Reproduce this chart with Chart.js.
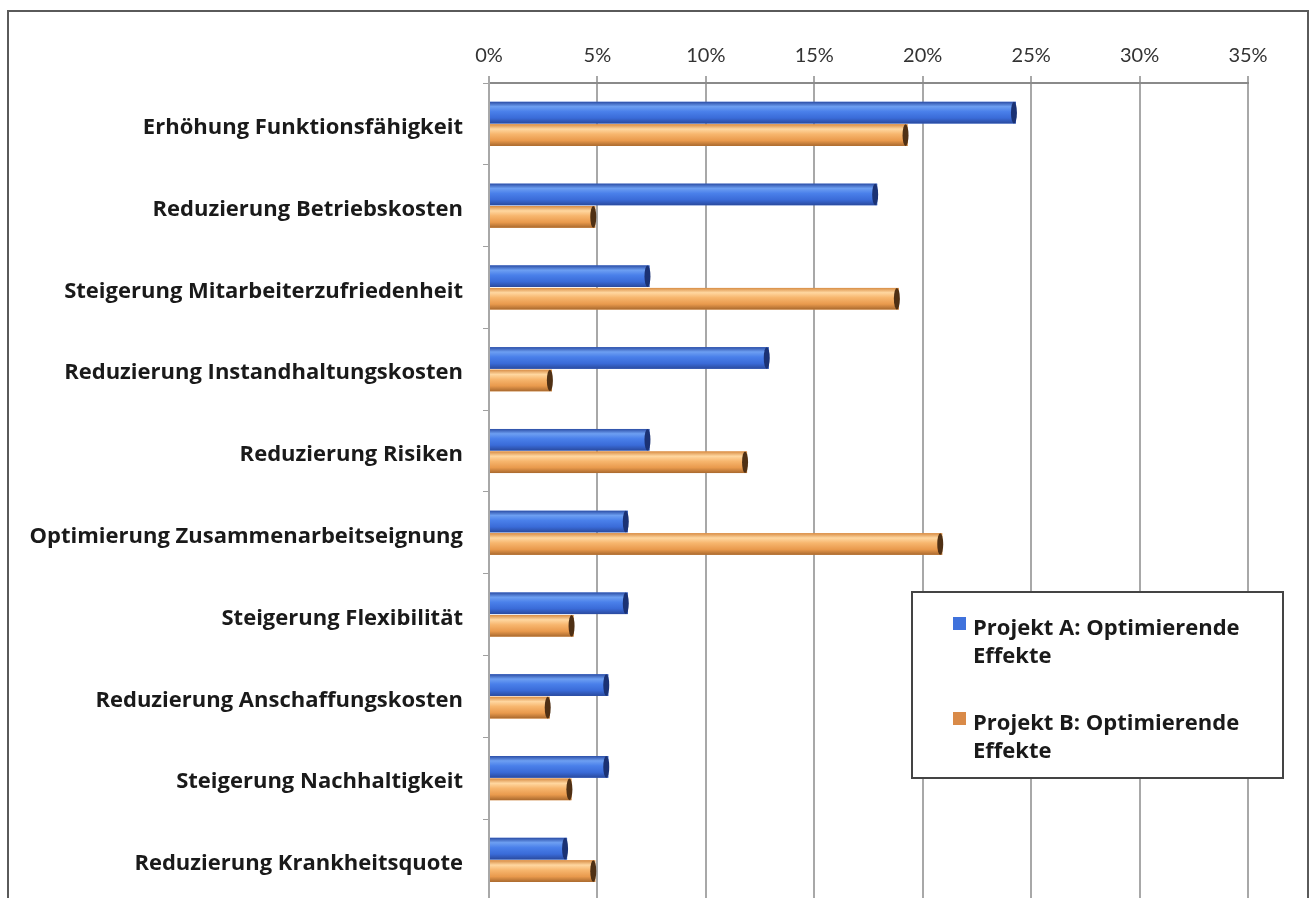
<!DOCTYPE html>
<html>
<head>
<meta charset="utf-8">
<script src="https://cdn.jsdelivr.net/npm/chart.js@4.4.1/dist/chart.umd.min.js"></script>
<style>
  html, body { margin: 0; padding: 0; background: #fff; overflow: hidden; }
  #frame {
    position: absolute; left: 7px; top: 10px; width: 1302px; height: 960px;
    border: 2px solid #5a5a5a; box-sizing: border-box;
  }
  #effekteChart { position: absolute; left: 0; top: 0; }
</style>
</head>
<body>
<div id="frame"></div>
<canvas id="effekteChart" width="1313" height="934"></canvas>
<script>
// Kategorien und Werte (Anteil in %)
const kategorien = [
    'Erhöhung Funktionsfähigkeit',
    'Reduzierung Betriebskosten',
    'Steigerung Mitarbeiterzufriedenheit',
    'Reduzierung Instandhaltungskosten',
    'Reduzierung Risiken',
    'Optimierung Zusammenarbeitseignung',
    'Steigerung Flexibilität',
    'Reduzierung Anschaffungskosten',
    'Steigerung Nachhaltigkeit',
    'Reduzierung Krankheitsquote'
];
const projektA = [24.3, 17.9, 7.4, 12.9, 7.4, 6.4, 6.4, 5.5, 5.5, 3.6];
const projektB = [19.3, 4.9, 18.9, 2.9, 11.9, 20.9, 3.9, 2.8, 3.8, 4.9];
const skala = [0, 5, 10, 15, 20, 25, 30, 35];

const labelFont = { family: 'Open Sans', size: 22, weight: 'bold' };

// Farbverläufe für die "Zylinder"-Balken
const balkenFarben = [
    { stops: ['#2c4ea6', '#6d9ff2', '#4a80ea', '#3a6bd8', '#2a4a9e'], kappe: '#1b3274' },
    { stops: ['#d88d45', '#ffd7a0', '#f7b66e', '#e99a4d', '#a9692e'], kappe: '#4f3014' }
];

const zylinderBalken = {
    id: 'zylinderBalken',
    afterDatasetsDraw(chart) {
        const ctx = chart.ctx;
        chart.data.datasets.forEach((ds, di) => {
            const meta = chart.getDatasetMeta(di);
            const farbe = balkenFarben[di];
            meta.data.forEach(el => {
                const { x, y, base, height } = el.getProps(['x', 'y', 'base', 'height'], true);
                const top = y - height / 2;
                const g = ctx.createLinearGradient(0, top, 0, top + height);
                g.addColorStop(0, farbe.stops[0]);
                g.addColorStop(0.22, farbe.stops[1]);
                g.addColorStop(0.45, farbe.stops[2]);
                g.addColorStop(0.75, farbe.stops[3]);
                g.addColorStop(1, farbe.stops[4]);
                ctx.save();
                ctx.fillStyle = g;
                ctx.fillRect(base, top, x - base, height);
                // dunkle Endkappe
                ctx.fillStyle = farbe.kappe;
                ctx.beginPath();
                ctx.ellipse(x - 2, y, 3, height / 2, 0, 0, Math.PI * 2);
                ctx.fill();
                ctx.restore();
            });
        });
    }
};

// Legende im Diagrammbereich mit Rahmen
const legendenBox = {
    id: 'legendenBox',
    afterDraw(chart) {
        const ctx = chart.ctx;
        const bx = 912, by = 592, bw = 371, bh = 186;
        ctx.save();
        ctx.fillStyle = '#fff';
        ctx.fillRect(bx, by, bw, bh);
        ctx.strokeStyle = '#444';
        ctx.lineWidth = 2;
        ctx.strokeRect(bx, by, bw, bh);
        ctx.font = 'bold 22px "Open Sans"';
        ctx.textBaseline = 'alphabetic';
        chart.data.datasets.forEach((ds, i) => {
            const oy = by + 43 + i * 95;
            ctx.fillStyle = i === 0 ? '#3f72dc' : '#d98a48';
            ctx.fillRect(bx + 41, oy - 18, 13, 13);
            ctx.fillStyle = '#1a1a1a';
            const teile = ds.label.split('\n');
            teile.forEach((t, k) => ctx.fillText(t, bx + 61, oy + k * 28));
        });
        ctx.restore();
    }
};

const chart = new Chart(document.getElementById('effekteChart'), {
    type: 'bar',
    data: {
        labels: kategorien,
        datasets: [{
            label: 'Projekt A: Optimierende\nEffekte',
            data: projektA,
            backgroundColor: '#3f72dc',
            categoryPercentage: 0.55,
            barPercentage: 0.96
        }, {
            label: 'Projekt B: Optimierende\nEffekte',
            data: projektB,
            backgroundColor: '#e99a4d',
            categoryPercentage: 0.55,
            barPercentage: 0.96
        }]
    },
    options: {
        indexAxis: 'y',
        responsive: false,
        animation: false,
        layout: { padding: { left: 0, right: 65, top: 0, bottom: 7 } },
        plugins: {
            legend: { display: false },
            tooltip: { enabled: false }
        },
        scales: {
            x: {
                position: 'top',
                min: 0,
                max: 35,
                afterBuildTicks(scale) {
                    scale.ticks = skala.map(v => ({ value: v }));
                },
                afterFit(scale) { scale.height = 83; },
                grid: { color: '#a8a8a8', lineWidth: 2, tickLength: 7 },
                border: { color: '#8a8a8a', width: 2 },
                ticks: {
                    padding: 8,
                    color: '#333',
                    font: { family: 'Lato', size: 20 },
                    callback: v => v + '%'
                }
            },
            y: {
                afterFit(scale) { scale.width = 489; },
                grid: { drawOnChartArea: false, color: '#a0a0a0', tickLength: 6, offset: true },
                border: { color: '#a8a8a8', width: 2 },
                ticks: { padding: 20, labelOffset: 4, color: '#1a1a1a', font: labelFont }
            }
        }
    },
    plugins: [zylinderBalken, legendenBox]
});
</script>
</body>
</html>
